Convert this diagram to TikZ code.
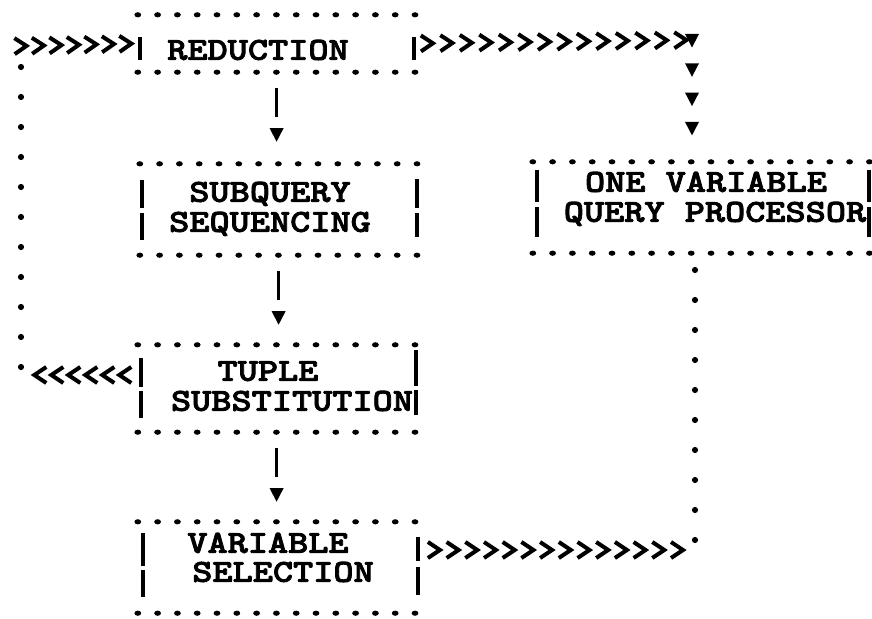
\documentclass[tikz,border=0pt]{standalone}
\usepackage{fontspec}
\newfontfamily\typer{lmmonolt10-bold.otf}[FakeStretch=1.2, FakeBold=2.5]
\usetikzlibrary{decorations.markings}

% typewriter marks
\newcommand\chevmark{\draw[line width=4pt, line join=miter, line cap=butt] (-6.5pt,-8pt) -- (5.5pt,0pt) -- (-6.5pt,8pt);}
\newcommand\trimark{\fill (7.5pt,0pt) -- (-6pt,7pt) -- (-6pt,-7pt) -- cycle;}
\newcommand\typebar[3]{\draw[barline] (#1,#2) -- (#1,#3);}

\tikzset{
  boxframe/.style={rectangle, inner sep=0pt, draw=none},
  lbl/.style={font=\typer\fontsize{32}{36}\selectfont, inner sep=0pt,
              text height=19.5pt, text depth=0pt},
  dotrow/.style={postaction={decorate},
     decoration={markings, mark=between positions 0 and 1 step 19.8pt with {\fill (0pt,0pt) ellipse (3.4pt and 2.6pt);}}},
  barline/.style={line width=3.4pt, line cap=butt},
  chev row/.style n args={3}{postaction={decorate},
     decoration={markings, mark=between positions #1 and #2 step #3 with {\chevmark}}},
  dot col/.style n args={2}{postaction={decorate},
     decoration={markings, mark=between positions #1 and #2 step 30pt with {\fill (0pt,0pt) circle (3.1pt);}}},
  tri col/.style={postaction={decorate},
     decoration={markings, mark=between positions 0pt and 90pt step 29.3pt with {\trimark}}},
  down link/.style={postaction={decorate},
     decoration={markings,
       mark=at position 16pt with {\draw[barline] (0pt,0pt) -- (29pt,0pt);},
       mark=at position 62pt with {\trimark}}},
}

\begin{document}
\begin{tikzpicture}[x=1pt, y=-1pt]
\useasboundingbox[fill=white] (0,0) rectangle (872,618);

% boxes
\node[boxframe, minimum width=277.2pt, minimum height=57pt] (red) at (276.6,43.5) {};
\node[boxframe, minimum width=277.2pt, minimum height=91pt] (sub) at (278.6,209.5) {};
\node[boxframe, minimum width=277.2pt, minimum height=87pt] (tup) at (276.6,388.5) {};
\node[boxframe, minimum width=277.2pt, minimum height=91pt] (var) at (276.6,567.5) {};
\node[boxframe, minimum width=336.6pt, minimum height=91pt] (one) at (701.3,207.5) {};

\foreach \b in {red,sub,tup,var,one} {
  \path[dotrow] (\b.north west) -- ([xshift=0.5pt]\b.north east);
  \path[dotrow] (\b.south west) -- ([xshift=0.5pt]\b.south east);
}

% side bars
\typebar{140}{37}{60}   \typebar{414}{37}{60}
\typebar{142}{180}{208} \typebar{142}{213}{240}
\typebar{417}{179}{208} \typebar{417}{213}{237}
\typebar{537}{170}{202} \typebar{537}{207}{237}
\typebar{869}{170}{202} \typebar{869}{207}{237}
\typebar{141}{358}{387} \typebar{141}{391}{418}
\typebar{416}{350}{386} \typebar{416}{390}{415}
\typebar{143}{533}{566} \typebar{143}{570}{597}
\typebar{418}{537}{561} \typebar{418}{567}{595}

% labels
\node[lbl] (red-t)  at (258,50)  {REDUCTION};
\node[lbl] (sub-t1) at (270,192) {SUBQUERY};
\node[lbl] (sub-t2) at (270,222) {SEQUENCING};
\node[lbl] (one-t1) at (706,182) {ONE VARIABLE};
\node[lbl] (one-t2) at (715,212) {QUERY PROCESSOR};
\node[lbl] (tup-t1) at (268,371) {TUPLE};
\node[lbl] (tup-t2) at (292,401) {SUBSTITUTION};
\node[lbl] (var-t1) at (268,543) {VARIABLE};
\node[lbl] (var-t2) at (283,572) {SELECTION};

% loop corners
\coordinate (lt) at (21,46);
\coordinate (lb) at (21,375);
\coordinate (rt) at (692,40);
\coordinate (rb) at (695,550);

% main flow down the left column
\path[down link] (red.south) -- (red.south |- sub.north);
\path[down link] (sub.south) -- (sub.south |- tup.north);
\path[down link] (tup.south) -- (tup.south |- var.north);

% feedback loop from tuple substitution back to reduction
\path[chev row={13pt}{100pt}{17pt}] (tup.west |- lb) -- (lb);
\path[dot col={21pt}{330pt}] (lt) -- (lb);
\path[chev row={0pt}{110pt}{17.5pt}] (lt) -- (red.west);

% reduction to the one variable query processor
\path[chev row={12pt}{266pt}{19.5pt}] (red.east) -- (rt);
\path[tri col] (rt) -- (rt |- one.north);

% variable selection back to the one variable query processor
\path[chev row={19pt}{265pt}{18.7pt}] (var.east |- rb) -- (rb);
\path[dot col={10pt}{290pt}] (rb) -- (rb |- one.south);
\end{tikzpicture}
\end{document}
